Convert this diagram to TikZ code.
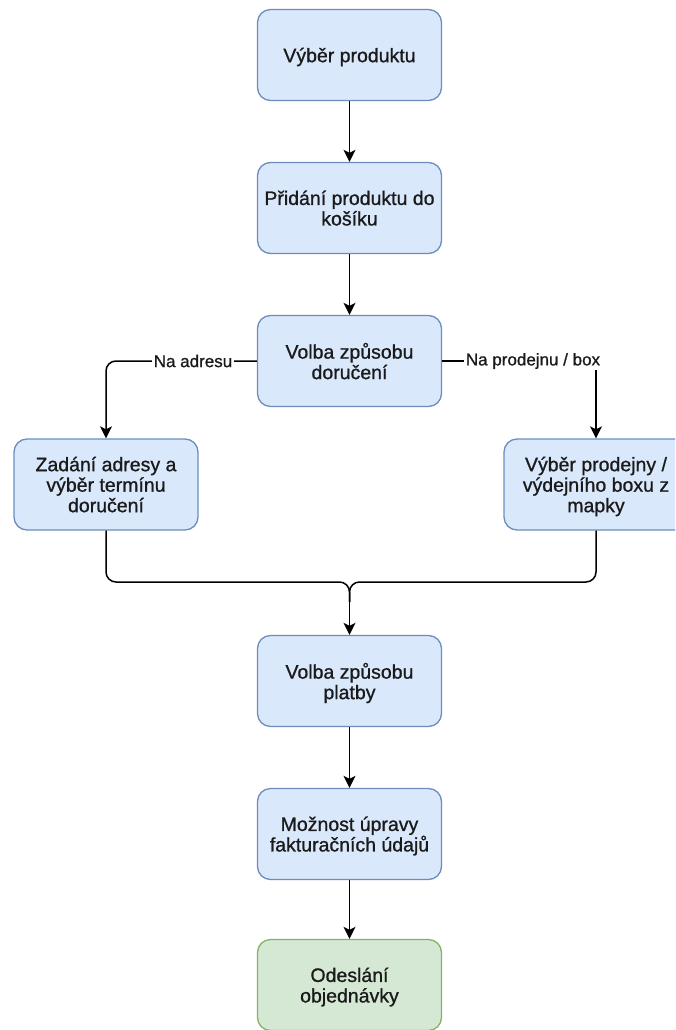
\documentclass[tikz,border=0pt]{standalone}
\usepackage{fontspec}
\setmainfont{Liberation Sans}
\newfontfamily\boxfont{Liberation Sans}[RawFeature={embolden=0.9}]
\usetikzlibrary{arrows.meta}

\definecolor{stepfill}{HTML}{DAE8FC}
\definecolor{stepdraw}{HTML}{6C8EBF}
\definecolor{endfill}{HTML}{D5E8D4}
\definecolor{enddraw}{HTML}{82B366}
\definecolor{ink}{HTML}{1A1A1A}

\tikzset{
  stepbox/.style={draw=stepdraw, fill=stepfill, line width=1.3pt,
    rounded corners=13pt, minimum width=184pt, minimum height=91pt,
    align=center, text=ink, inner sep=2pt, text depth=0pt,
    font=\boxfont\fontsize{19.5}{20.5}\selectfont},
  endbox/.style={stepbox, draw=enddraw, fill=endfill},
  flow/.style={draw=black, line width=1.5pt,
    -{Stealth[length=12pt, width=12pt, inset=3pt]}},
  joint/.style={draw=black, line width=1.5pt, rounded corners=10pt},
  edgelabel/.style={fill=white, text=ink, inner sep=1.5pt,
    font=\boxfont\fontsize{17}{19}\selectfont}
}

\begin{document}
\begin{tikzpicture}[x=1pt, y=-1pt]
  \clip (0,0) rectangle (675,1030);
  \fill[white] (0,0) rectangle (675,1030);

  % process steps
  \node[stepbox] (pick)    at (349.5, 55)  {Výběr produktu};
  \node[stepbox] (cart)    at (349.5, 208) {Přidání produktu do\\košíku};
  \node[stepbox] (deliver) at (349.5, 361) {Volba způsobu\\doručení};
  \node[stepbox] (address) at (106, 484.5) {Zadání adresy a\\výběr termínu\\doručení};
  \node[stepbox] (store)   at (596, 484.5) {Výběr prodejny /\\výdejního boxu z\\mapky};
  \node[stepbox] (payment) at (349.5, 681) {Volba způsobu\\platby};
  \node[stepbox] (billing) at (349.5, 834) {Možnost úpravy\\fakturačních údajů};
  \node[endbox]  (send)    at (349.5, 985) {Odeslání\\objednávky};

  % routing points
  \coordinate (leftturn)  at (106, 361);
  \coordinate (rightturn) at (596, 361);
  \coordinate (mergeL)    at (106, 582);
  \coordinate (mergeR)    at (596, 582);
  \coordinate (mergeM)    at (349.5, 582);
  \coordinate (merge)     at (349.5, 602);

  % straight flow
  \draw[flow] (pick) -- (cart);
  \draw[flow] (cart) -- (deliver);
  \draw[flow] (payment) -- (billing);
  \draw[flow] (billing) -- (send);

  % delivery branches
  \draw[flow, rounded corners=10pt] (deliver.west) -- (leftturn) -- (address.north);
  \draw[flow] (deliver.east) -- (rightturn) -- (store.north);
  \node[edgelabel] (toaddr)  at (193, 361) {Na adresu};
  \node[edgelabel] (tostore) at (533, 361) {Na prodejnu / box};

  % branches join again
  \draw[joint] (address.south) -- (mergeL) -- (mergeM) -- (merge);
  \draw[joint] (store.south) -- (mergeR) -- (mergeM) -- (merge);
  \draw[flow] (merge) -- (payment.north);
\end{tikzpicture}
\end{document}
